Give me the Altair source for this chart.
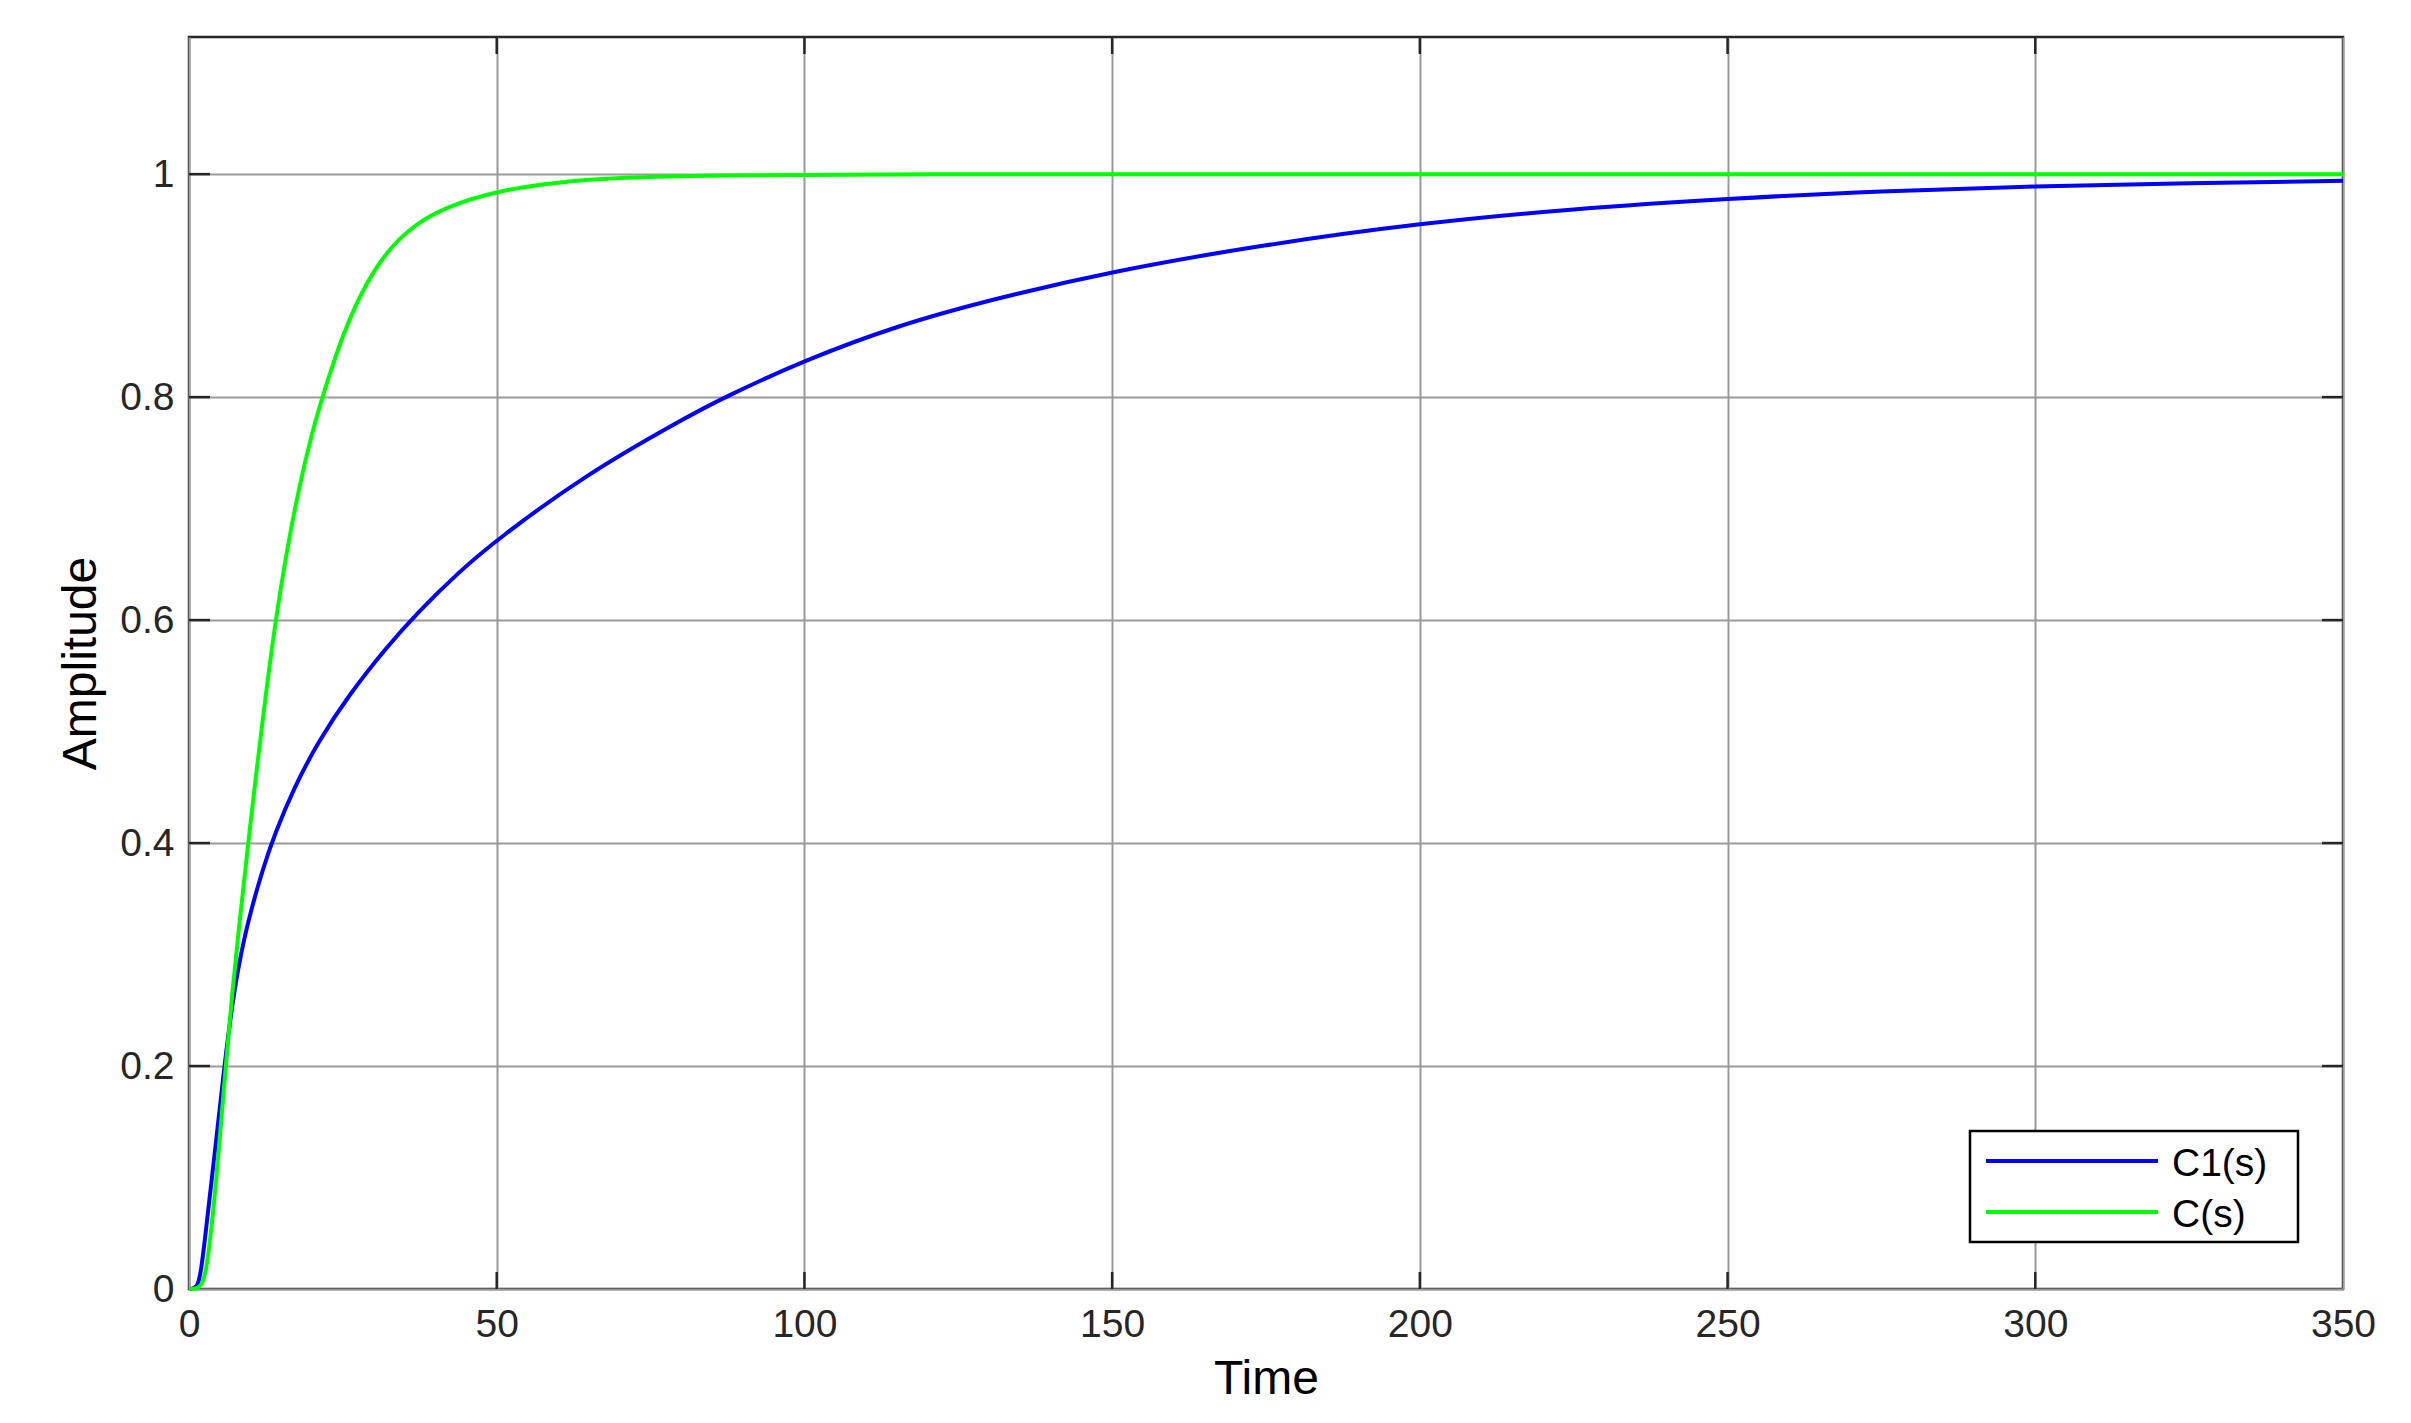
import altair as alt
import pandas as pd

# ---- data ----
t_c1 = [0, 1.4, 2.0, 2.6, 3.1, 4.5, 5.74, 7, 8, 9, 10, 12, 14, 17, 21, 26, 32, 37, 44, 50,
        64.3, 79.8, 87, 100, 115, 130, 150, 175, 200, 225, 250, 275, 300, 325, 350]
a_c1 = [0, 0, 0.018, 0.045, 0.07, 0.137, 0.2, 0.254, 0.288, 0.315, 0.338, 0.377, 0.409, 0.449,
        0.491, 0.533, 0.575, 0.606, 0.644, 0.672, 0.73, 0.779, 0.8, 0.833, 0.864, 0.887, 0.913,
        0.937, 0.956, 0.969, 0.978, 0.985, 0.989, 0.992, 0.994]

t_c = [0, 2.2, 3.1, 4.5, 5.96, 7.0, 8.0, 9.6, 12, 14, 16, 18, 20, 21.6, 24, 26, 28, 30, 33, 37,
       42, 50, 60, 70, 85, 110, 200, 350]
a_c = [0, 0, 0.025, 0.1, 0.2, 0.264, 0.318, 0.4, 0.513, 0.598, 0.666, 0.722, 0.768, 0.799, 0.84,
       0.869, 0.893, 0.913, 0.936, 0.956, 0.971, 0.985, 0.993, 0.997, 0.999, 1.0, 1.0, 1.0]

series_names = ["C1(s)", "C(s)"]
series_colors = ["#0000ff", "#00ff00"]

x_ticks = [0, 50, 100, 150, 200, 250, 300, 350]
y_ticks = [0, 0.2, 0.4, 0.6, 0.8, 1]
x_domain = [0, 350]
y_domain = [0, 1.123]

W, H = 2154, 1252
FONT = "Liberation Sans"

df_c1 = pd.DataFrame({"t": t_c1, "amp": a_c1})
df_c = pd.DataFrame({"t": t_c, "amp": a_c})

x_scale = alt.Scale(domain=x_domain, nice=False, zero=False)
y_scale = alt.Scale(domain=y_domain, nice=False, zero=False)

x_axis = alt.Axis(values=x_ticks, title="Time", grid=True, labelPadding=16, labelFlush=False,
                  titleY=104, titleBaseline="alphabetic", titleX=W / 2)
y_axis = alt.Axis(values=y_ticks, title="Amplitude", grid=True, format="~g", labelPadding=15,
                  labelFlush=False,
                  titleX=-94, titleY=H / 2, titleAngle=270, titleAlign="center",
                  titleBaseline="alphabetic")

X = alt.X("t:Q", scale=x_scale, axis=x_axis)
Y = alt.Y("amp:Q", scale=y_scale, axis=y_axis)

line_c1 = alt.Chart(df_c1).mark_line(strokeWidth=4, interpolate="basis",
                                     color=series_colors[0]).encode(x=X, y=Y)
line_c = alt.Chart(df_c).mark_line(strokeWidth=4, interpolate="basis",
                                   color=series_colors[1]).encode(x=X, y=Y)

# inward tick marks on all four sides (MATLAB style)
yt = pd.DataFrame({"amp": y_ticks[1:]})
xt = pd.DataFrame({"t": x_ticks[1:-1]})
tick_style = dict(color="#262626", strokeWidth=2.5)
tick_left = alt.Chart(yt).mark_rule(**tick_style).encode(
    y=Y, x=alt.value(0), x2=alt.value(21))
tick_right = alt.Chart(yt).mark_rule(**tick_style).encode(
    y=Y, x=alt.value(W), x2=alt.value(W - 21))
tick_top = alt.Chart(xt).mark_rule(**tick_style).encode(
    x=X, y=alt.value(0), y2=alt.value(17))
tick_bottom = alt.Chart(xt).mark_rule(**tick_style).encode(
    x=X, y=alt.value(H), y2=alt.value(H - 17))

# legend box (lower right, inside the axes)
one = pd.DataFrame({"k": [0]})
leg_box = alt.Chart(one).mark_rect(fill="white", stroke="black", strokeWidth=2.5).encode(
    x=alt.value(1781), x2=alt.value(2109), y=alt.value(1094), y2=alt.value(1205))
leg_layers = [leg_box]
for i, (name, col) in enumerate(zip(series_names, series_colors)):
    leg_layers.append(alt.Chart(one).mark_rule(color=col, strokeWidth=4).encode(
        x=alt.value(1797), x2=alt.value(1969), y=alt.value(1124 + 51 * i)))
    leg_layers.append(alt.Chart(one).mark_text(align="left", baseline="middle", fontSize=39,
                                               font=FONT, color="#000000").encode(
        x=alt.value(1983), y=alt.value(1127 + 51 * i), text=alt.value(name)))

chart = alt.layer(
    tick_left, tick_right, tick_top, tick_bottom, line_c1, line_c, *leg_layers
).properties(
    width=W, height=H,
    autosize=alt.AutoSizeParams(type="none"),
    padding={"left": 181, "top": 29, "right": 50, "bottom": 120},
    background="white",
).configure_view(
    stroke="#262626", strokeWidth=2.5
).configure_axis(
    domain=False, ticks=False,
    labelFont=FONT, labelFontSize=39, labelColor="#262626",
    titleFont=FONT, titleFontSize=48, titleColor="#000000", titleFontWeight="normal",
    gridColor="#9a9a9a", gridWidth=2, gridOpacity=1,
)

chart.save("out.html", embed_options={"renderer": "svg", "actions": False})
